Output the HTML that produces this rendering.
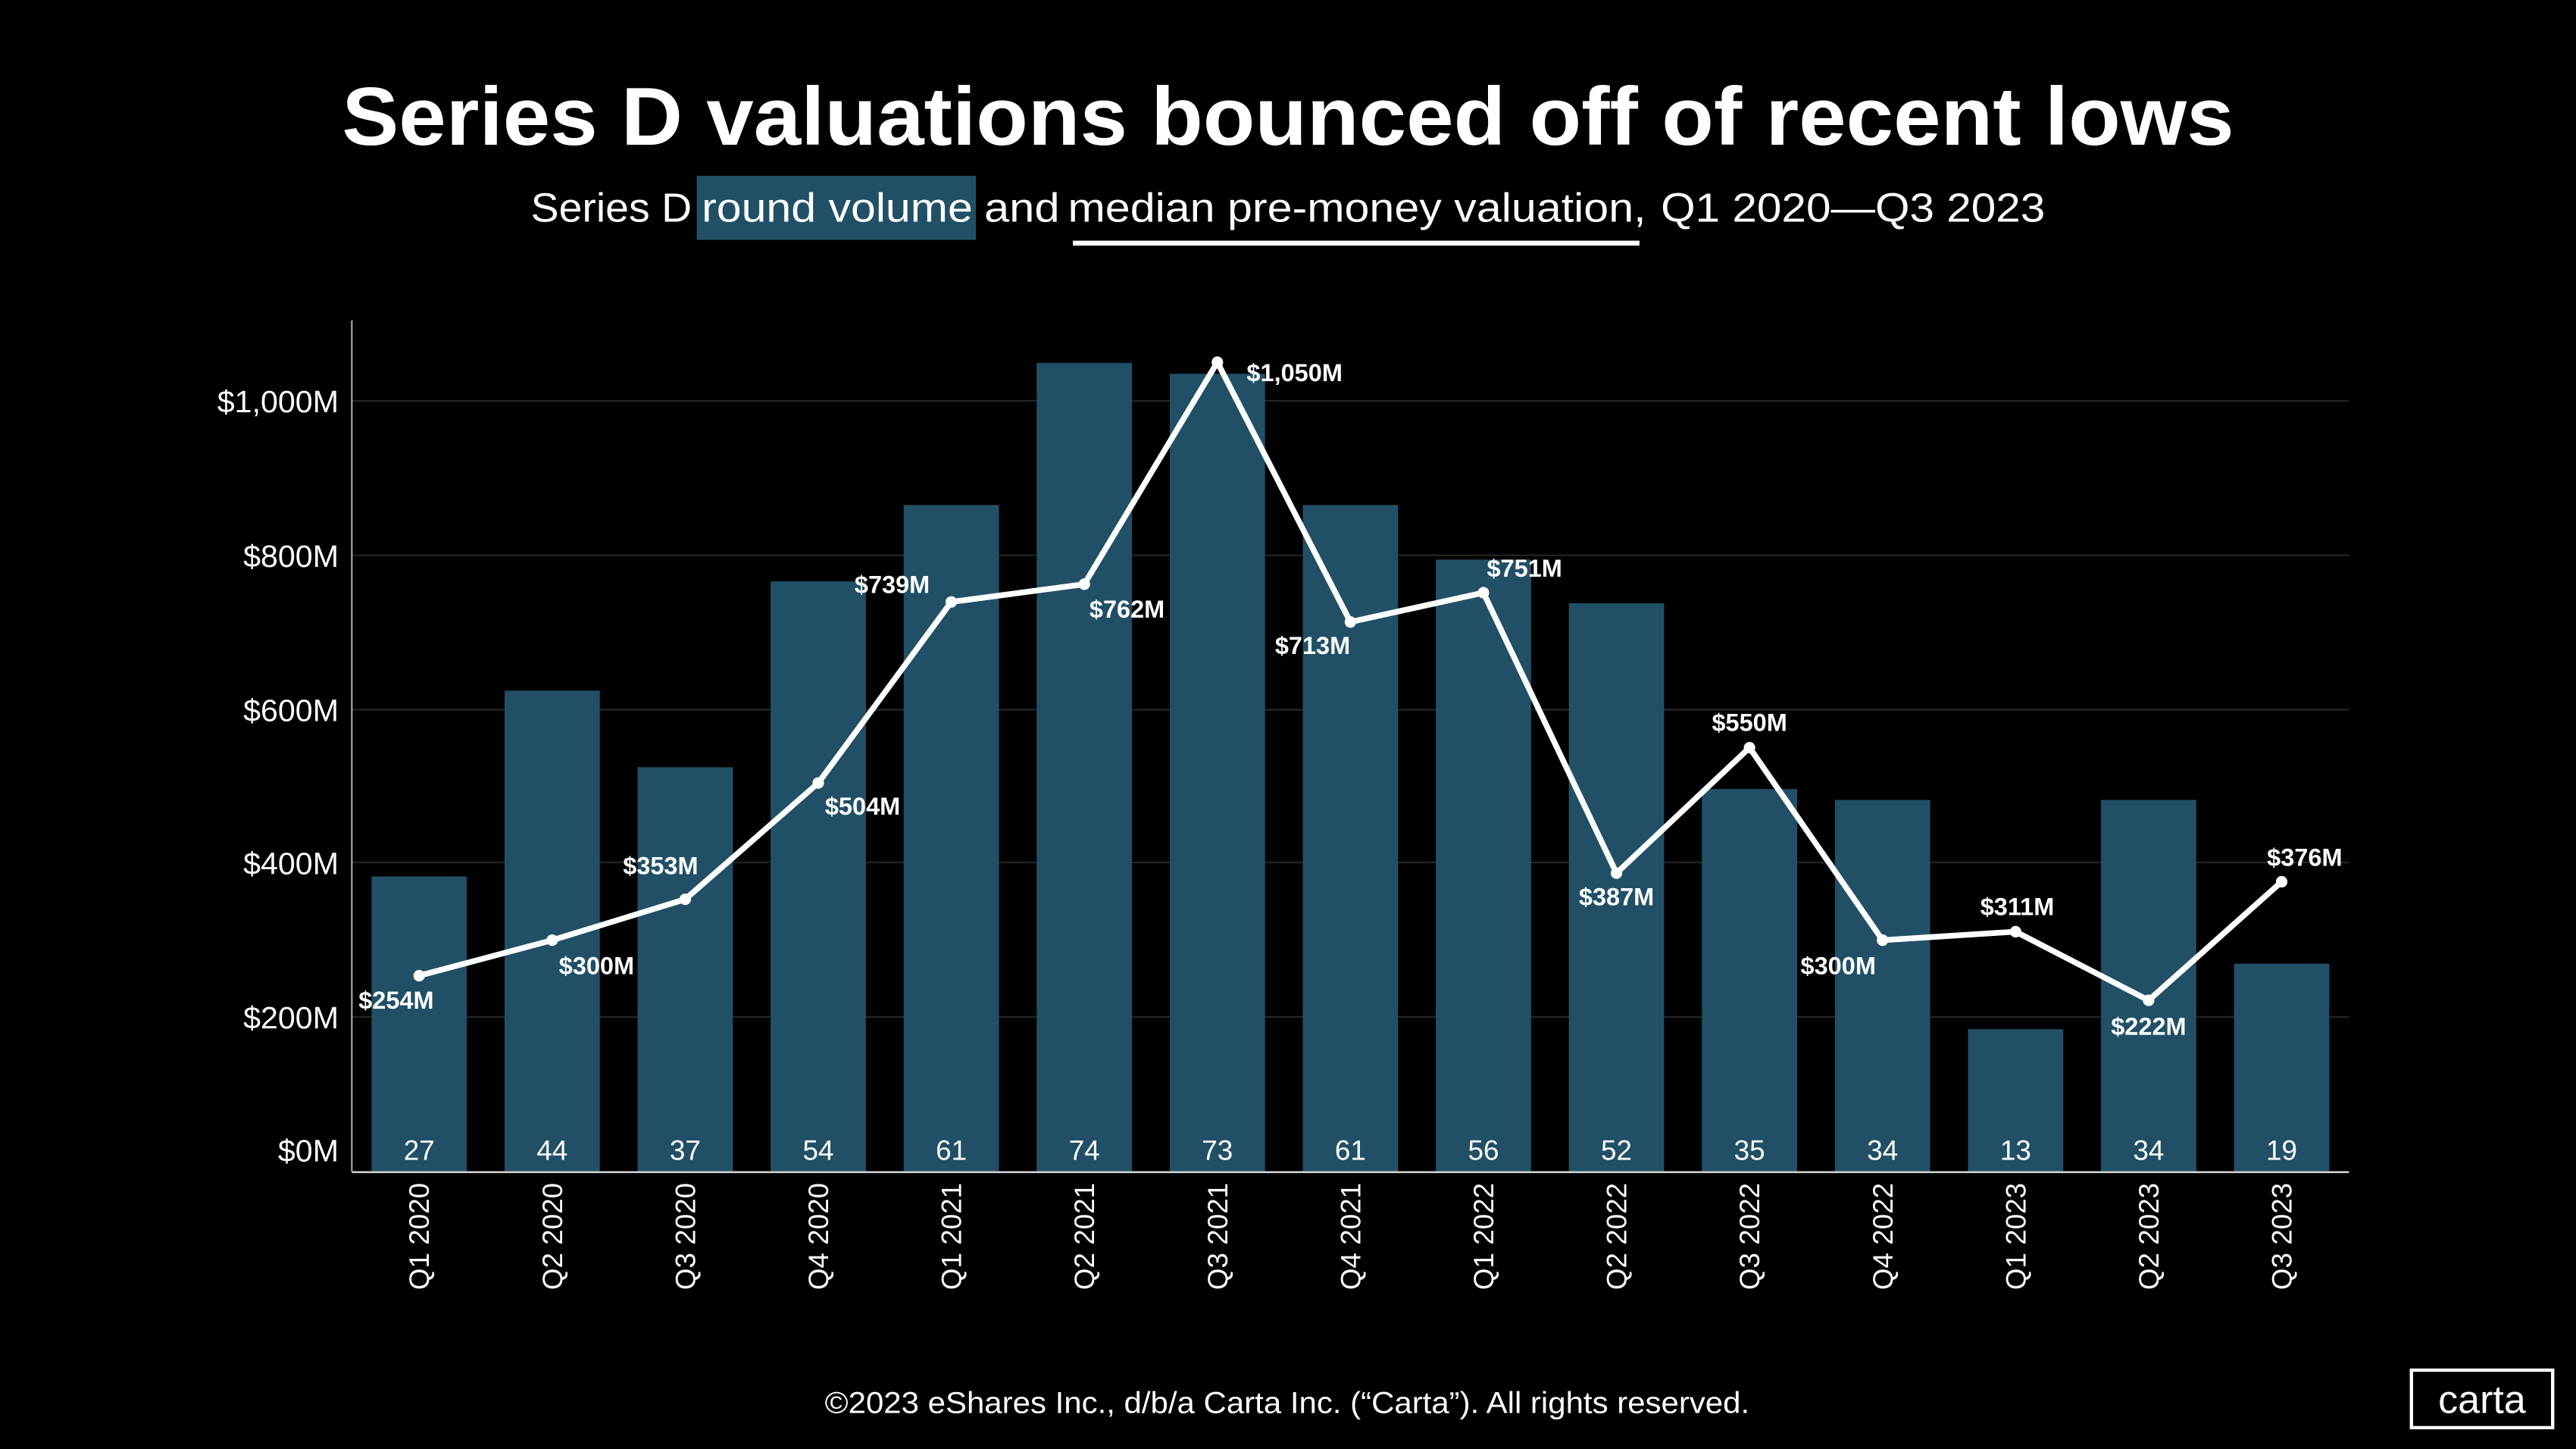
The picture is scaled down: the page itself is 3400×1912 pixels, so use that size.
<!DOCTYPE html>
<html><head><meta charset="utf-8"><style>
html,body{margin:0;padding:0;background:#000;}
svg{display:block;}
text{font-family:"Liberation Sans",sans-serif;fill:#fff;}
</style></head><body>
<svg width="3400" height="1912" viewBox="0 0 1568 882" xmlns="http://www.w3.org/2000/svg">
<rect width="1568" height="882" fill="#000"/>
<text x="208" y="88" font-size="50" font-weight="bold" textLength="1152" lengthAdjust="spacingAndGlyphs">Series D valuations bounced off of recent lows</text>
<rect x="424" y="107" width="170" height="39" fill="#215066"/>
<g font-size="25">
<text x="323" y="135" textLength="98" lengthAdjust="spacingAndGlyphs">Series D</text>
<text x="427" y="135" textLength="165" lengthAdjust="spacingAndGlyphs">round volume</text>
<text x="599" y="135" textLength="46" lengthAdjust="spacingAndGlyphs">and</text>
<text x="650" y="135" textLength="352" lengthAdjust="spacingAndGlyphs">median pre-money valuation,</text>
<text x="1011" y="135" textLength="234" lengthAdjust="spacingAndGlyphs">Q1 2020—Q3 2023</text>
</g>
<rect x="653" y="146.5" width="345" height="3" fill="#fff"/>
<g stroke="#262626" stroke-width="1">
<line x1="214" y1="619" x2="1430" y2="619"/><line x1="214" y1="525" x2="1430" y2="525"/>
<line x1="214" y1="432" x2="1430" y2="432"/><line x1="214" y1="338" x2="1430" y2="338"/>
<line x1="214" y1="244" x2="1430" y2="244"/>
</g>
<g font-size="19" text-anchor="end">
<text x="206" y="707">$0M</text><text x="206" y="626">$200M</text><text x="206" y="532">$400M</text>
<text x="206" y="439">$600M</text><text x="206" y="345">$800M</text><text x="206" y="251">$1,000M</text>
</g>
<g fill="#215066">
<rect x="226" y="533.5" width="58" height="179.5"/>
<rect x="307" y="420.4" width="58" height="292.6"/>
<rect x="388" y="467" width="58" height="246"/>
<rect x="469" y="353.9" width="58" height="359.1"/>
<rect x="550" y="307.4" width="58" height="405.6"/>
<rect x="631" y="220.9" width="58" height="492.1"/>
<rect x="712" y="227.5" width="58" height="485.5"/>
<rect x="793" y="307.4" width="58" height="405.6"/>
<rect x="874" y="340.6" width="58" height="372.4"/>
<rect x="955" y="367.2" width="58" height="345.8"/>
<rect x="1036" y="480.3" width="58" height="232.7"/>
<rect x="1117" y="486.9" width="58" height="226.1"/>
<rect x="1198" y="626.5" width="58" height="86.5"/>
<rect x="1279" y="486.9" width="58" height="226.1"/>
<rect x="1360" y="586.6" width="58" height="126.4"/>
</g>
<line x1="214" y1="195" x2="214" y2="713" stroke="#aaa" stroke-width="1"/>
<line x1="214" y1="713.5" x2="1430" y2="713.5" stroke="#ccc" stroke-width="1.2"/>
<g font-size="17" text-anchor="middle" style="fill:#cfcfcf">
<text x="255" y="706">27</text><text x="336" y="706">44</text><text x="417" y="706">37</text><text x="498" y="706">54</text>
<text x="579" y="706">61</text><text x="660" y="706">74</text><text x="741" y="706">73</text><text x="822" y="706">61</text>
<text x="903" y="706">56</text><text x="984" y="706">52</text><text x="1065" y="706">35</text><text x="1146" y="706">34</text>
<text x="1227" y="706">13</text><text x="1308" y="706">34</text><text x="1389" y="706">19</text>
</g>
<g font-size="17" text-anchor="end">
<text transform="translate(261,720) rotate(-90)">Q1 2020</text>
<text transform="translate(342,720) rotate(-90)">Q2 2020</text>
<text transform="translate(423,720) rotate(-90)">Q3 2020</text>
<text transform="translate(504,720) rotate(-90)">Q4 2020</text>
<text transform="translate(585,720) rotate(-90)">Q1 2021</text>
<text transform="translate(666,720) rotate(-90)">Q2 2021</text>
<text transform="translate(747,720) rotate(-90)">Q3 2021</text>
<text transform="translate(828,720) rotate(-90)">Q4 2021</text>
<text transform="translate(909,720) rotate(-90)">Q1 2022</text>
<text transform="translate(990,720) rotate(-90)">Q2 2022</text>
<text transform="translate(1071,720) rotate(-90)">Q3 2022</text>
<text transform="translate(1152,720) rotate(-90)">Q4 2022</text>
<text transform="translate(1233,720) rotate(-90)">Q1 2023</text>
<text transform="translate(1314,720) rotate(-90)">Q2 2023</text>
<text transform="translate(1395,720) rotate(-90)">Q3 2023</text>
</g>
<polyline fill="none" stroke="#fff" stroke-width="3.5" stroke-linejoin="round" points="255,593.9 336,572.3 417,547.4 498,476.6 579,366.4 660,355.6 741,220.5 822,378.6 903,360.8 984,531.5 1065,455.1 1146,572.3 1227,567.1 1308,608.9 1389,536.7"/>
<g fill="#fff">
<circle cx="255" cy="593.9" r="3.5"/><circle cx="336" cy="572.3" r="3.5"/><circle cx="417" cy="547.4" r="3.5"/>
<circle cx="498" cy="476.6" r="3.5"/><circle cx="579" cy="366.4" r="3.5"/><circle cx="660" cy="355.6" r="3.5"/>
<circle cx="741" cy="220.5" r="3.5"/><circle cx="822" cy="378.6" r="3.5"/><circle cx="903" cy="360.8" r="3.5"/>
<circle cx="984" cy="531.5" r="3.5"/><circle cx="1065" cy="455.1" r="3.5"/><circle cx="1146" cy="572.3" r="3.5"/>
<circle cx="1227" cy="567.1" r="3.5"/><circle cx="1308" cy="608.9" r="3.5"/><circle cx="1389" cy="536.7" r="3.5"/>
</g>
<g font-size="15" font-weight="bold" text-anchor="middle">
<text x="241" y="614">$254M</text><text x="363" y="593">$300M</text><text x="402" y="532">$353M</text>
<text x="525" y="496">$504M</text><text x="543" y="361">$739M</text><text x="686" y="376">$762M</text>
<text x="788" y="232">$1,050M</text><text x="799" y="398">$713M</text><text x="928" y="351">$751M</text>
<text x="984" y="551">$387M</text><text x="1065" y="445">$550M</text><text x="1119" y="593">$300M</text>
<text x="1228" y="557">$311M</text><text x="1308" y="630">$222M</text><text x="1403" y="527">$376M</text>
</g>
<text x="502" y="860" font-size="18.5" textLength="563" lengthAdjust="spacingAndGlyphs">©2023 eShares Inc., d/b/a Carta Inc. (“Carta”). All rights reserved.</text>
<rect x="1468" y="834" width="86" height="35" fill="none" stroke="#fff" stroke-width="2"/>
<text x="1511" y="860" text-anchor="middle" font-size="24">carta</text>
</svg>
</body></html>
